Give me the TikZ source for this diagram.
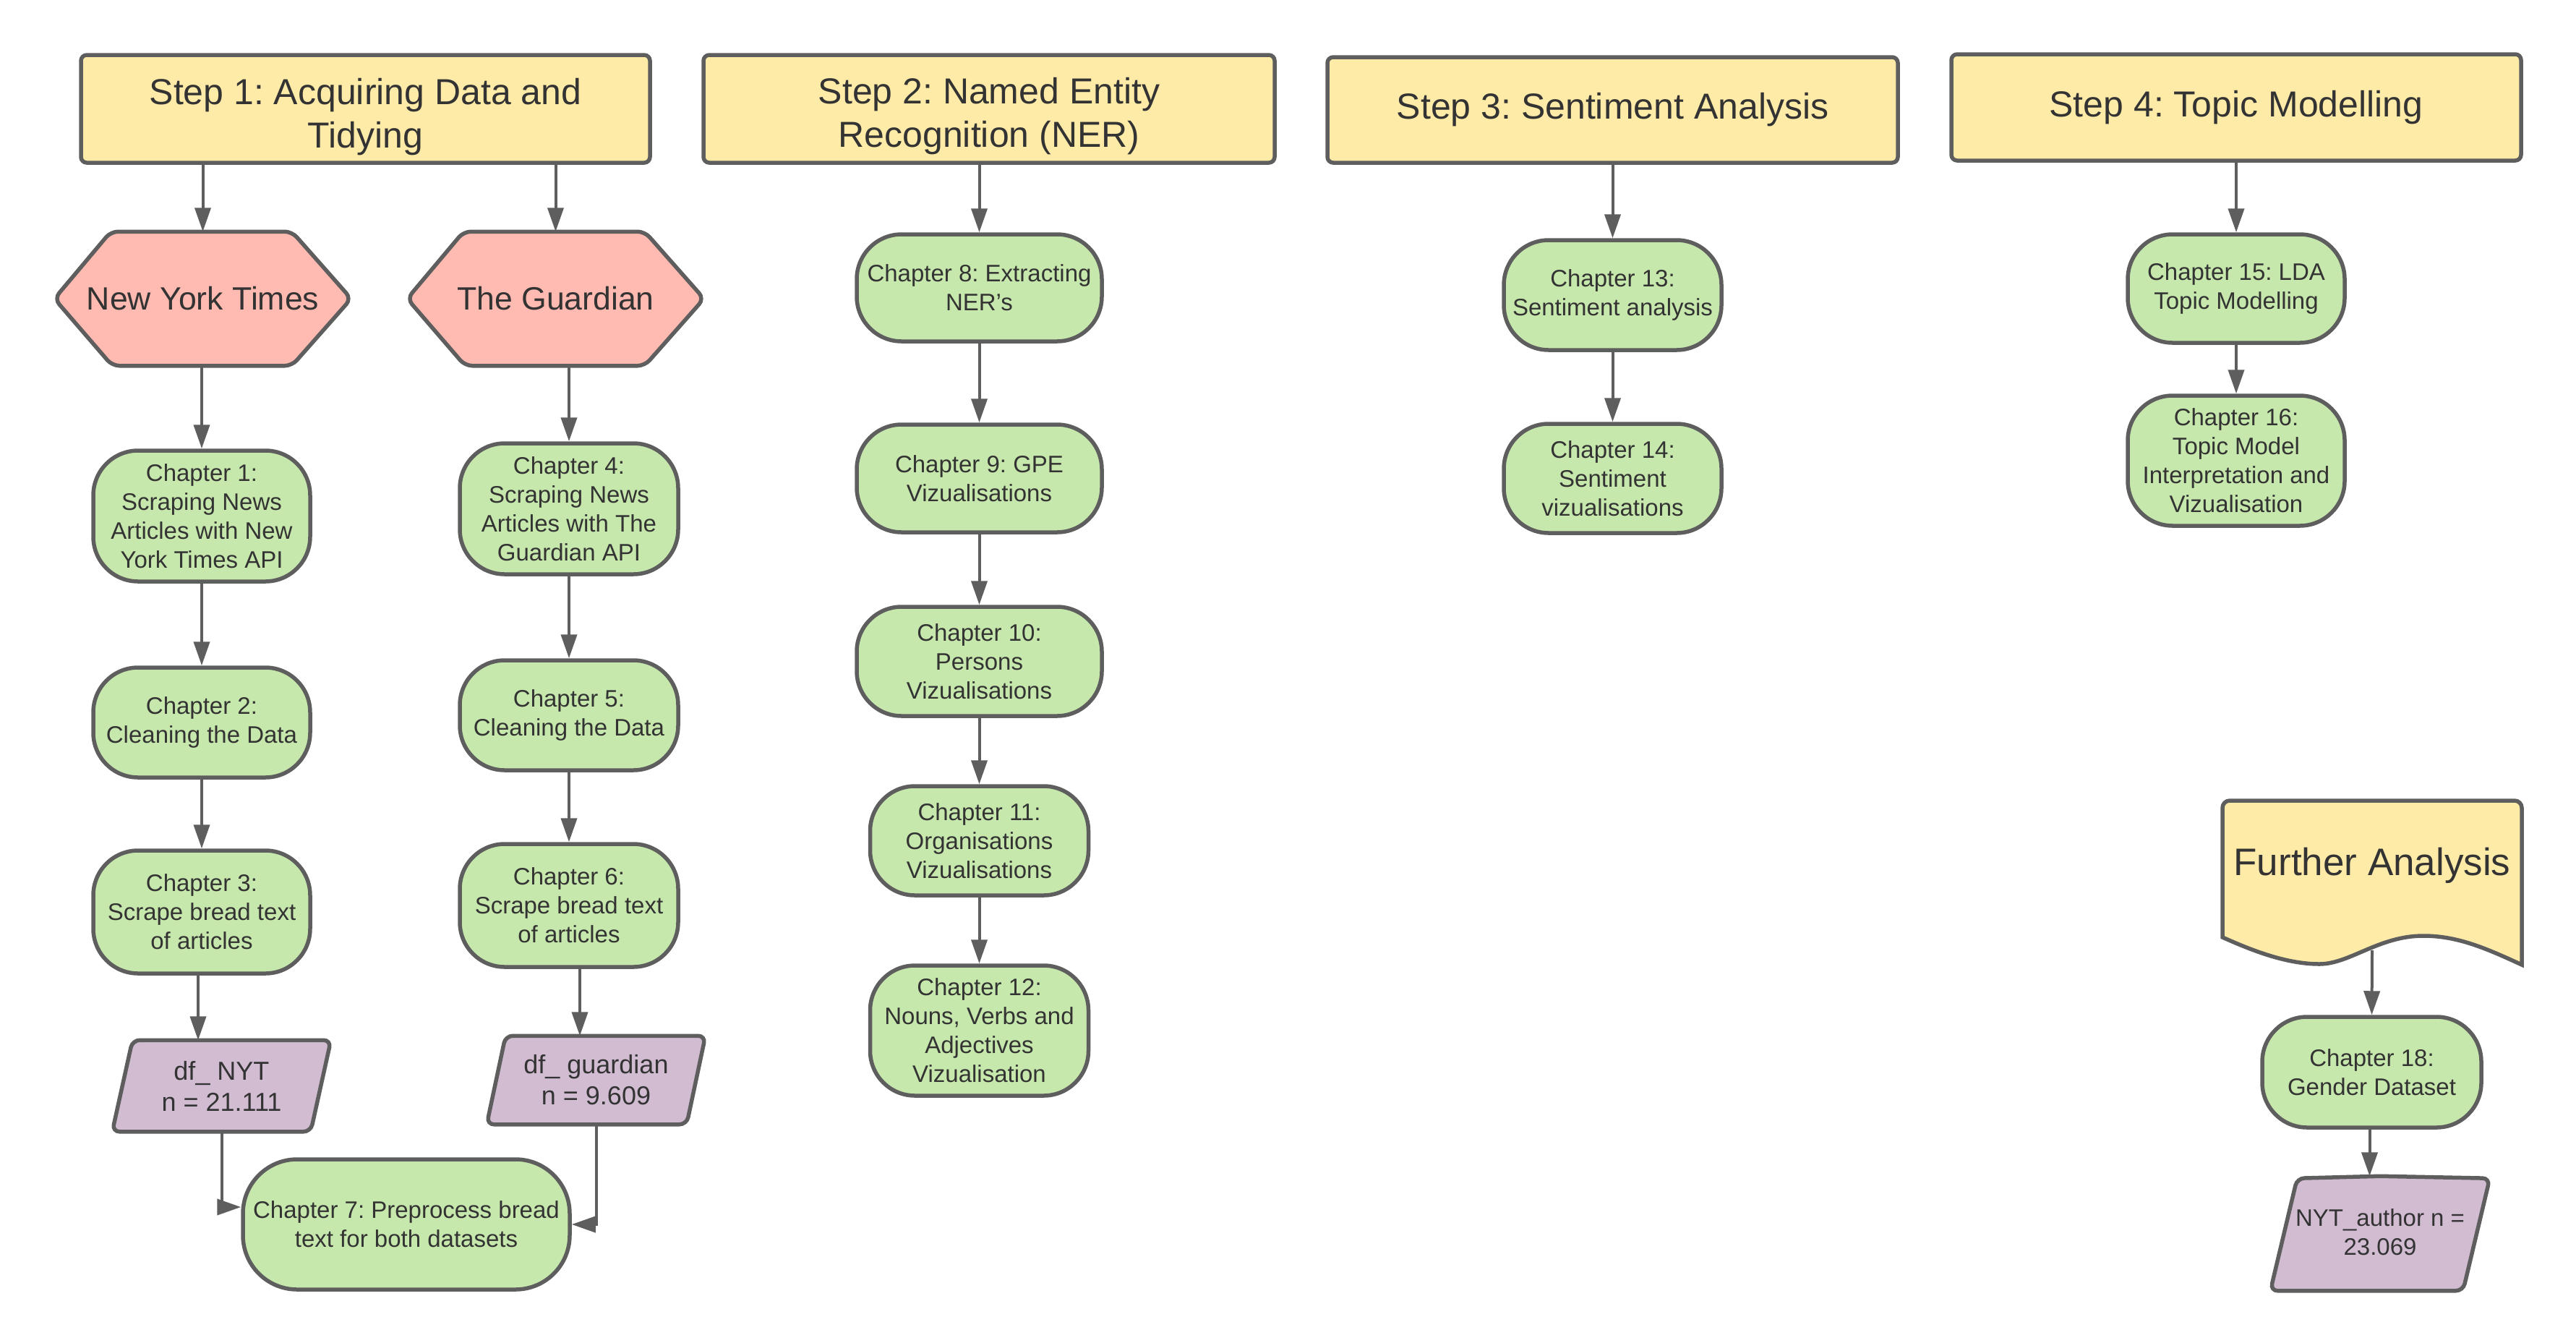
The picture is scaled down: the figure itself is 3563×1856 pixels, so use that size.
\documentclass[tikz,border=0pt]{standalone}
\usepackage{fontspec}
\setmainfont{Liberation Sans}
\frenchspacing
\usetikzlibrary{arrows.meta,backgrounds}
\definecolor{lc}{HTML}{5E5E5E}
\definecolor{tc}{HTML}{333333}
\definecolor{yel}{HTML}{FFEBA8}
\definecolor{sal}{HTML}{FFBBB1}
\definecolor{grn}{HTML}{C7E8AC}
\definecolor{pur}{HTML}{D1BCD2}
\tikzset{
 base/.style={text=tc, align=center, inner sep=0pt, line width=5.5pt},
 stepbox/.style={base, draw=lc, fill=yel, rounded corners=8pt, font=\fontsize{50}{60}\selectfont},
 chap/.style={base, draw=lc, fill=grn, rounded corners=62pt, font=\fontsize{33}{40}\selectfont},
 hexlabel/.style={base, font=\fontsize{44.6}{54}\selectfont},
 datalabel/.style={base, font=\fontsize{36}{43}\selectfont},
 shapeline/.style={draw=lc, line width=5.5pt, rounded corners=10pt},
 arr/.style={draw=lc, line width=4pt, -{Triangle[length=33pt,width=22pt]}},
}
\begin{document}
\begin{tikzpicture}[x=1pt,y=-1pt]
\useasboundingbox (0,0) rectangle (3563,1856);

% ---- Step headers
\node[stepbox, minimum width=787pt, minimum height=149pt] (s1) at (505.5,150.5) {\rule{0pt}{58pt}Step 1: Acquiring Data and\\Tidying};
\node[stepbox, minimum width=790pt, minimum height=149pt] (s2) at (1368,150.5) {\rule{0pt}{56pt}Step 2: Named Entity\\Recognition (NER)};
\node[stepbox, minimum width=789pt, minimum height=146pt] (s3) at (2230.5,152) {Step 3: Sentiment Analysis};
\node[stepbox, minimum width=788pt, minimum height=147pt] (s4) at (3093,148.5) {Step 4: Topic Modelling};

% ---- Hexagons
\node[hexlabel, minimum width=405pt, minimum height=180pt] (nyt) at (280.5,413) {New York Times};
\node[hexlabel, minimum width=405pt, minimum height=180pt] (gua) at (768.5,413) {The Guardian};

% ---- Step 1 chapters
\node[chap, minimum width=300pt, minimum height=181pt] (c1) at (279,713.5) {Chapter 1:\\Scraping News\\Articles with New\\York Times API};
\node[chap, minimum width=300pt, minimum height=152pt] (c2) at (279,999) {Chapter 2:\\Cleaning the Data};
\node[chap, minimum width=300pt, minimum height=170pt] (c3) at (279,1261) {Chapter 3:\\Scrape bread text\\of articles};
\node[chap, minimum width=302pt, minimum height=181pt] (c4) at (787,703.5) {Chapter 4:\\Scraping News\\Articles with The\\Guardian API};
\node[chap, minimum width=302pt, minimum height=152pt] (c5) at (787,989) {Chapter 5:\\Cleaning the Data};
\node[chap, minimum width=302pt, minimum height=170pt] (c6) at (787,1252) {Chapter 6:\\Scrape bread text\\of articles};
\node[chap, rounded corners=75pt, minimum width=452pt, minimum height=180pt] (c7) at (562,1693) {Chapter 7: Preprocess bread\\text for both datasets};

% ---- data sets
\node[datalabel, minimum width=297pt, minimum height=121pt] (dfn) at (306.5,1501.5) {df\_ NYT\\n = 21.111};
\node[datalabel, minimum width=297pt, minimum height=117pt] (dfg) at (824.5,1493.5) {df\_ guardian\\n = 9.609};

% ---- Step 2 chapters
\node[chap, minimum width=339pt, minimum height=148pt] (c8) at (1354.5,398) {Chapter 8: Extracting\\NER's};
\node[chap, minimum width=339pt, minimum height=149pt] (c9) at (1354.5,661.5) {Chapter 9: GPE\\Vizualisations};
\node[chap, minimum width=339pt, minimum height=151pt] (c10) at (1354.5,914.5) {Chapter 10:\\Persons\\Vizualisations};
\node[chap, minimum width=302pt, minimum height=151pt] (c11) at (1354.5,1162.5) {Chapter 11:\\Organisations\\Vizualisations};
\node[chap, minimum width=302pt, minimum height=180pt] (c12) at (1354.5,1425) {Chapter 12:\\Nouns, Verbs and\\Adjectives\\Vizualisation};

% ---- Step 3 chapters
\node[chap, minimum width=301pt, minimum height=152pt] (c13) at (2230.5,408) {Chapter 13:\\Sentiment analysis};
\node[chap, minimum width=301pt, minimum height=151pt] (c14) at (2230.5,661.5) {Chapter 14:\\Sentiment\\vizualisations};

% ---- Step 4 chapters
\node[chap, minimum width=300pt, minimum height=150pt] (c15) at (3093,399) {Chapter 15: LDA\\Topic Modelling};
\node[chap, minimum width=300pt, minimum height=180pt] (c16) at (3093,637) {Chapter 16:\\Topic Model\\Interpretation and\\Vizualisation};

% ---- Further analysis
\node[base, font=\fontsize{53}{64}\selectfont, minimum width=414pt, minimum height=150pt] (fa) at (3281,1197) {Further Analysis};
\coordinate (fawave) at (3281,1314);
\node[chap, minimum width=303pt, minimum height=153pt] (c18) at (3280.5,1482.5) {Chapter 18:\\Gender Dataset};
\node[base, font=\fontsize{33}{40}\selectfont, minimum width=298pt, minimum height=150pt] (nya) at (3292,1704) {NYT\_author n =\\23.069};

% ---- background shapes
\begin{pgfonlayer}{background}
\path[shapeline, fill=sal] (nyt.north) -- ([xshift=-82pt]nyt.north east) -- (nyt.east) -- ([xshift=-82pt]nyt.south east) -- ([xshift=80pt]nyt.south west) -- (nyt.west) -- ([xshift=78pt]nyt.north west) -- cycle;
\path[shapeline, fill=sal] (gua.north) -- ([xshift=-82pt]gua.north east) -- (gua.east) -- ([xshift=-82pt]gua.south east) -- ([xshift=80pt]gua.south west) -- (gua.west) -- ([xshift=78pt]gua.north west) -- cycle;
\path[shapeline, fill=pur] (dfn.north) -- (dfn.north east) -- ([xshift=-28pt]dfn.south east) -- (dfn.south west) -- ([xshift=28pt]dfn.north west) -- cycle;
\path[shapeline, fill=pur] (dfg.north) -- (dfg.north east) -- ([xshift=-26pt]dfg.south east) -- (dfg.south west) -- ([xshift=26pt]dfg.north west) -- cycle;
\path[shapeline, fill=pur] (nya.north) -- ([yshift=-3pt]nya.north east) -- ([xshift=-37pt,yshift=-3pt]nya.south east) -- ([yshift=-3pt]nya.south west) -- ([xshift=37pt,yshift=-3pt]nya.north west) -- cycle;
\path[draw=lc, line width=5.5pt, fill=yel, rounded corners=10pt] (3281,1107) -- (3488,1107) -- (3488,1220) [sharp corners] -- (3488,1334) .. controls (3440,1312) and (3400,1294) .. (3352,1294) .. controls (3290,1294) and (3250,1333) .. (3208,1333) .. controls (3160,1333) and (3110,1312) .. (3074,1296) [rounded corners=10pt] -- (3074,1107) -- cycle;
\end{pgfonlayer}

% ---- connectors
\draw[arr] (nyt.north |- s1.south) -- (nyt.north);
\draw[arr] (gua.north |- s1.south) -- (gua.north);
\draw[arr] (nyt.south -| c1.north) -- (c1.north);
\draw[arr] (gua.south -| c4.north) -- (c4.north);
\draw[arr] (c1) -- (c2);
\draw[arr] (c2) -- (c3);
\draw[arr] (c4) -- (c5);
\draw[arr] (c5) -- (c6);
\draw[arr] ([xshift=-5pt]c3.south) -- ([xshift=-5pt]c3.south |- dfn.north);
\draw[arr] ([xshift=15pt]c6.south) -- ([xshift=15pt]c6.south |- dfg.north);
\draw[arr] (dfn.south) |- ([yshift=24pt]c7.west);
\draw[arr] (dfg.south) |- (c7.east);

\draw[arr] (c8.north |- s2.south) -- (c8.north);
\draw[arr] (c8) -- (c9);
\draw[arr] (c9) -- (c10);
\draw[arr] (c10) -- (c11);
\draw[arr] (c11) -- (c12);

\draw[arr] (s3) -- (c13);
\draw[arr] (c13) -- (c14);

\draw[arr] (s4) -- (c15);
\draw[arr] (c15) -- (c16);

\draw[arr] (fawave) -- (c18.north);
\draw[arr] ([xshift=-3pt]c18.south) -- ([xshift=-3pt]c18.south |- nya.north);
\end{tikzpicture}
\end{document}
